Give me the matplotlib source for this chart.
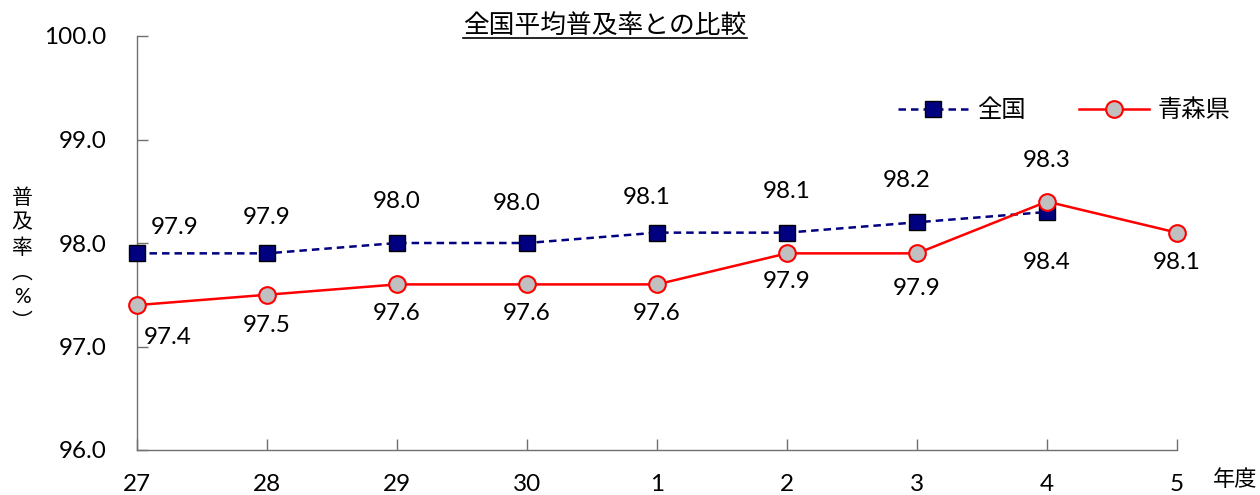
import matplotlib.pyplot as plt
from matplotlib.lines import Line2D

plt.rcParams['font.family'] = ['Lato', 'Noto Sans CJK JP', 'DejaVu Sans']

years = ['27', '28', '29', '30', '1', '2', '3', '4', '5']
zenkoku = [97.9, 97.9, 98.0, 98.0, 98.1, 98.1, 98.2, 98.3]
aomori = [97.4, 97.5, 97.6, 97.6, 97.6, 97.9, 97.9, 98.4, 98.1]

# label offsets in pixels (dx, dy)
zen_off = [(38, 26), (0, 36), (0, 41), (-10, 39), (-10, 35), (0, 41), (-10, 42), (0, 51)]
aom_off = [(31, -32), (0, -31), (0, -29), (0, -29), (0, -29), (0, -28), (0, -35), (0, -61), (0, -30)]

fs = 17.5

fig = plt.figure(figsize=(12.6, 4.95), dpi=100)
ax = fig.add_axes([137 / 1260, 45 / 495, 1040 / 1260, 414 / 495])

x = list(range(len(years)))
ax.plot(x[:len(zenkoku)], zenkoku, color='#000080', lw=1.8, ls=(0, (3, 2)),
        marker='s', markersize=11, markerfacecolor='#000080',
        markeredgecolor='black', markeredgewidth=1, label='全国', zorder=3)
ax.plot(x, aomori, color='#FF0000', lw=1.8,
        marker='o', markersize=12, markerfacecolor='#C0C0C0',
        markeredgecolor='#FF0000', markeredgewidth=1.5, label='青森県', zorder=4)

for i, v in enumerate(zenkoku):
    ax.annotate(f'{v:.1f}', (i, v), xytext=zen_off[i], textcoords='offset pixels',
                ha='center', va='center', fontsize=fs)
for i, v in enumerate(aomori):
    ax.annotate(f'{v:.1f}', (i, v), xytext=aom_off[i], textcoords='offset pixels',
                ha='center', va='center', fontsize=fs)

ax.set_xlim(0, 8)
ax.set_ylim(96, 100)
ax.set_xticks(x)
ax.set_xticklabels(years)
ax.set_yticks([96, 97, 98, 99, 100])
ax.set_yticklabels(['96.0', '97.0', '98.0', '99.0', '100.0'])
ax.tick_params(axis='both', direction='in', length=8, width=1, color='#707070',
               labelsize=fs)
ax.tick_params(axis='y', pad=22)
ax.tick_params(axis='x', pad=17)
for s in ['top', 'right']:
    ax.spines[s].set_visible(False)
for s in ['left', 'bottom']:
    ax.spines[s].set_color('#707070')
    ax.spines[s].set_linewidth(1)
for ln in ax.lines:
    ln.set_clip_on(False)

ax.legend(loc='center left', bbox_to_anchor=(898 / 1260, 1 - 110 / 495),
          bbox_transform=fig.transFigure, frameon=False, ncol=2, fontsize=17.5,
          handlelength=2.9, columnspacing=2.2, handletextpad=0.35,
          borderpad=0, borderaxespad=0)

# title with underline
t = fig.text(605 / 1260, 1 - 25 / 495, '全国平均普及率との比較', ha='center', va='center',
             fontsize=18.5)
fig.canvas.draw()
bb = t.get_window_extent().transformed(fig.transFigure.inverted())
fig.add_artist(Line2D([bb.x0, bb.x1], [bb.y0 - 0.002, bb.y0 - 0.002],
                      transform=fig.transFigure, color='black', lw=1.2))

fig.text(22 / 1260, 1 - 260 / 495, '普\n及\n率\n︵\n%\n︶', ha='center', va='center',
         fontsize=15, linespacing=1.3)
fig.text(1235 / 1260, 1 - 480 / 495, '年度', ha='center', va='center', fontsize=16)

fig.savefig('out.png', dpi=100)
